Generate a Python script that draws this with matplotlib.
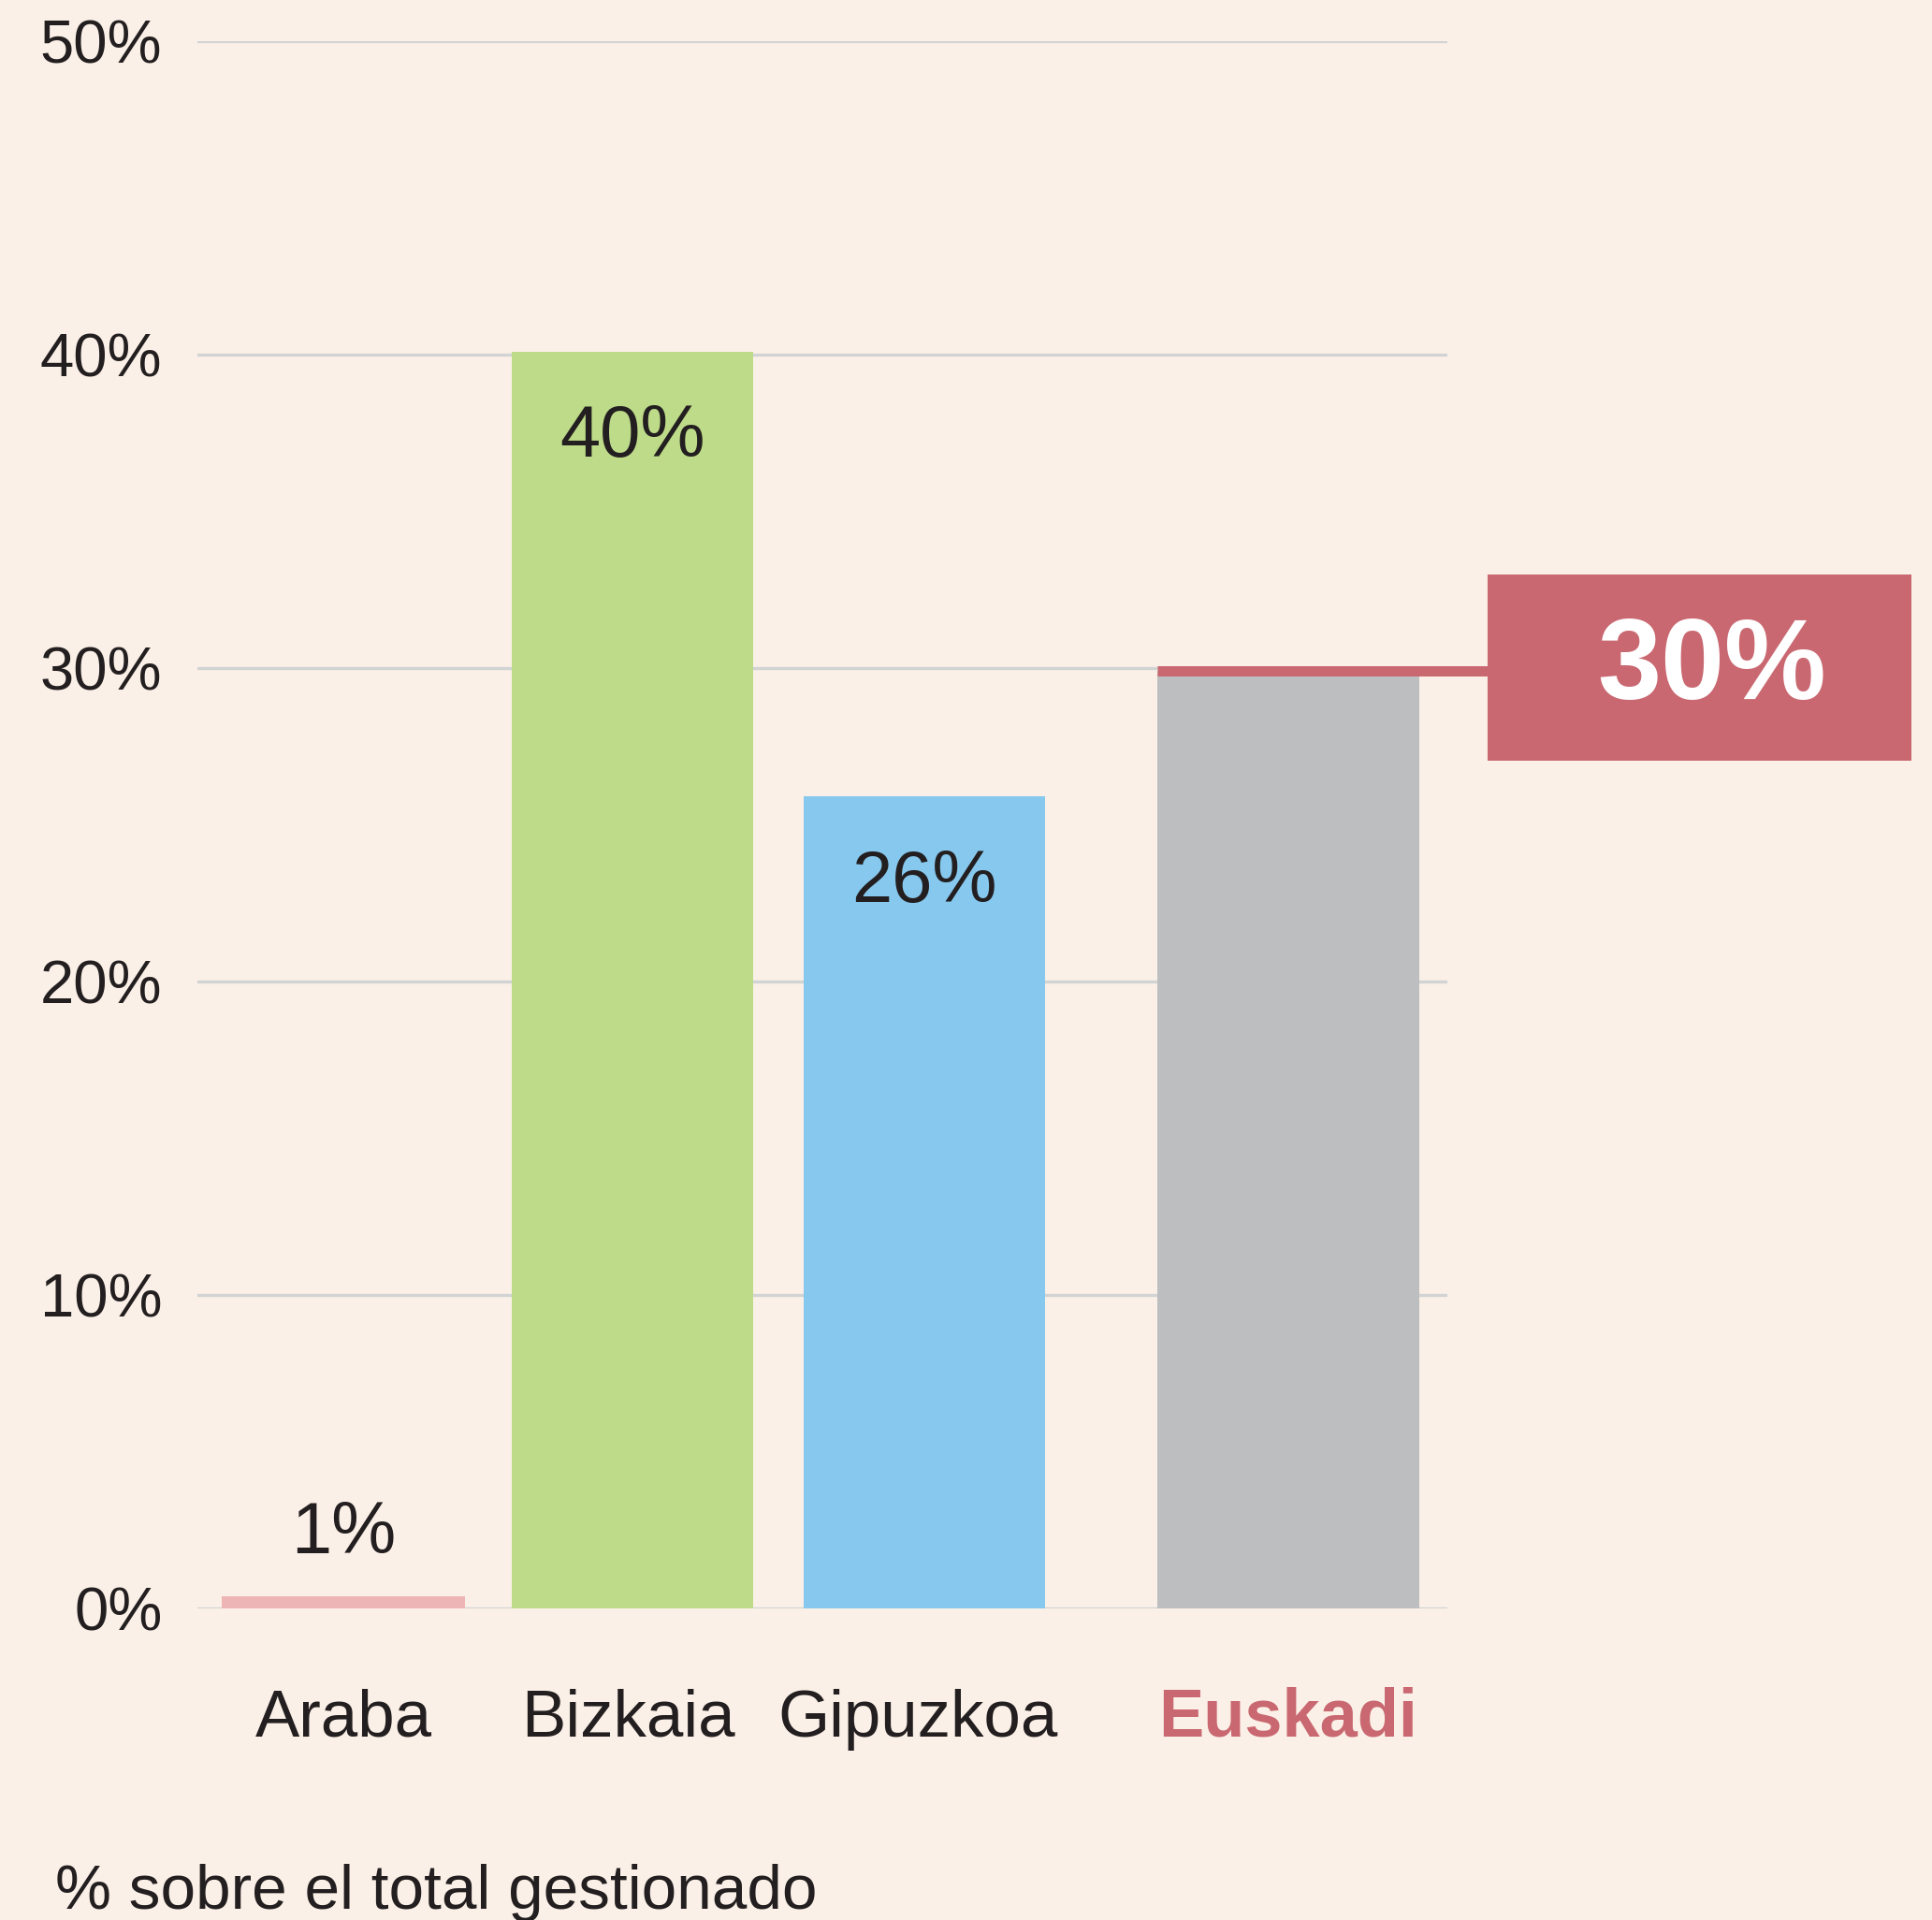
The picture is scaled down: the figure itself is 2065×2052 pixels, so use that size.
import matplotlib.pyplot as plt
from matplotlib.patches import Rectangle

# data
categories = ['Araba', 'Bizkaia', 'Gipuzkoa', 'Euskadi']
values = [0.4, 40.1, 25.9, 29.9]
value_labels = ['1%', '40%', '26%', '30%']
yticks = [0, 10, 20, 30, 40, 50]
footer = '% sobre el total gestionado'

# layout / style
x_pos = [0, 0.997, 2.003, 3.258]
widths = [0.839, 0.835, 0.832, 0.906]
label_shift = [0, -3, -5, 0]  # small horizontal nudges of category labels, in points
colors = ['#eeb5b6', '#bddb88', '#87c8ee', '#bcbec0']
bg = '#fbf0e7'
text_col = '#231f20'
red = '#c96870'
grid_col = '#d1d3d4'

plt.rcParams['font.family'] = ['Liberation Sans', 'DejaVu Sans']

W, H = 2065, 2052
fig = plt.figure(figsize=(W / 100, H / 100), dpi=100)
fig.set_facecolor(bg)
ax = fig.add_axes([211 / W, 1 - 1719 / H, (1547 - 211) / W, (1719 - 44) / H])
ax.set_facecolor(bg)

ax.set_xlim(-0.5032, 3.8065)
ax.set_ylim(0, 50)

ax.bar(x_pos, values, width=widths, color=colors, zorder=2)

# grid
ax.set_yticks(yticks)
ax.set_yticklabels([f'{v}%' for v in yticks], fontsize=47, color=text_col)
ax.yaxis.grid(True, color=grid_col, linewidth=2.4, zorder=0)
ax.tick_params(axis='y', length=0, pad=27)
ax.set_xticks([])
for s in ax.spines.values():
    s.set_visible(False)

# value labels (first three bars)
for i in range(3):
    off = 33 if values[i] < 5 else -81
    ax.annotate(value_labels[i], xy=(x_pos[i], values[i]), xytext=(0, off),
                textcoords='offset points', ha='center', va='baseline',
                fontsize=56, color=text_col, zorder=3)

# category labels
for i, cat in enumerate(categories):
    is_total = cat == 'Euskadi'
    ax.annotate(cat, xy=(x_pos[i], 0), xytext=(label_shift[i], -98.5), textcoords='offset points',
                ha='center', va='baseline', fontsize=52 if is_total else 51,
                fontweight='bold' if is_total else 'normal',
                color=red if is_total else text_col, annotation_clip=False)

# Euskadi marker line and callout box
ev = values[3]
left = x_pos[3] - widths[3] / 2
box_left, box_w = 3.945, 1.461
ax.plot([left, box_left], [ev, ev], color=red, linewidth=7.9,
        solid_capstyle='butt', clip_on=False, zorder=3)
ax.add_patch(Rectangle((box_left, ev - 2.87), box_w, 5.97, facecolor=red,
                       edgecolor='none', clip_on=False, zorder=3))
ax.text(box_left + box_w * 0.53, ev - 0.9, value_labels[3], ha='center', va='baseline',
        fontsize=88, fontweight='bold', color='white', zorder=4, clip_on=False)

fig.text(59 / W, 1 - 2040 / H, footer, ha='left', va='baseline', fontsize=48.6, color=text_col)

fig.savefig('out.png', dpi=100, facecolor=bg)
